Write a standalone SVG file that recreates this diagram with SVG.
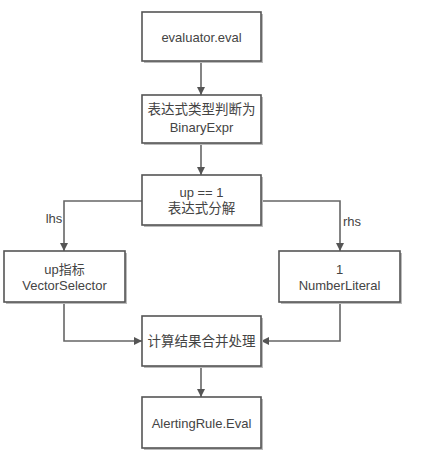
<svg xmlns="http://www.w3.org/2000/svg" width="421" height="469" viewBox="0 0 421 469">
<style>
.box{fill:#fff;stroke:#555;stroke-width:1.6}
.sh{fill:#bbb}
.t{font-family:"Liberation Sans","Noto Sans CJK SC",sans-serif;font-size:13px;fill:#444;text-anchor:middle}
.c{font-size:13.5px}
.ln{fill:none;stroke:#666;stroke-width:1.6}
</style>
<defs>
<marker id="ah" viewBox="0 0 10 10" refX="10" refY="5" markerWidth="8" markerHeight="8" markerUnits="userSpaceOnUse" orient="auto">
<path d="M0,0 L10,5 L0,10 Z" fill="#555"/>
</marker>
</defs>
<rect width="421" height="469" fill="#fff"/>
<g id="connectors">
<path class="ln" d="M201,61 V95" marker-end="url(#ah)"/>
<path class="ln" d="M201,143 V175" marker-end="url(#ah)"/>
<path class="ln" d="M142,201 H64 V251" marker-end="url(#ah)"/>
<path class="ln" d="M261,201 H340 V251" marker-end="url(#ah)"/>
<path class="ln" d="M64,302 V341 H142" marker-end="url(#ah)"/>
<path class="ln" d="M340,302 V341 H261" marker-end="url(#ah)"/>
<path class="ln" d="M201,366 V397" marker-end="url(#ah)"/>
<text class="t" x="54" y="223">lhs</text>
<text class="t" x="352" y="226">rhs</text>
</g>
<g id="n1">
<rect class="sh" x="144" y="14" width="119" height="49"/>
<rect class="box" x="142" y="12" width="119" height="49"/>
<text class="t" x="201.5" y="42">evaluator.eval</text>
</g>
<g id="n2">
<rect class="sh" x="144" y="97" width="119" height="48"/>
<rect class="box" x="142" y="95" width="119" height="48"/>
<text class="t c" x="201.5" y="114">表达式类型判断为</text>
<text class="t" x="201.5" y="132">BinaryExpr</text>
</g>
<g id="n3">
<rect class="sh" x="144" y="177" width="119" height="50"/>
<rect class="box" x="142" y="175" width="119" height="50"/>
<text class="t" x="201.5" y="197">up == 1</text>
<text class="t c" x="201.5" y="213">表达式分解</text>
</g>
<g id="n4">
<rect class="sh" x="6" y="253" width="121" height="51"/>
<rect class="box" x="4" y="251" width="121" height="51"/>
<text class="t" x="64.5" y="274">up指标</text>
<text class="t" x="64.5" y="290">VectorSelector</text>
</g>
<g id="n5">
<rect class="sh" x="281" y="253" width="121" height="51"/>
<rect class="box" x="279" y="251" width="121" height="51"/>
<text class="t" x="339.5" y="274">1</text>
<text class="t" x="339.5" y="290">NumberLiteral</text>
</g>
<g id="n6">
<rect class="sh" x="144" y="318" width="119" height="50"/>
<rect class="box" x="142" y="316" width="119" height="50"/>
<text class="t c" x="201.5" y="346">计算结果合并处理</text>
</g>
<g id="n7">
<rect class="sh" x="144" y="399" width="119" height="51"/>
<rect class="box" x="142" y="397" width="119" height="51"/>
<text class="t" x="201.5" y="428">AlertingRule.Eval</text>
</g>
</svg>
